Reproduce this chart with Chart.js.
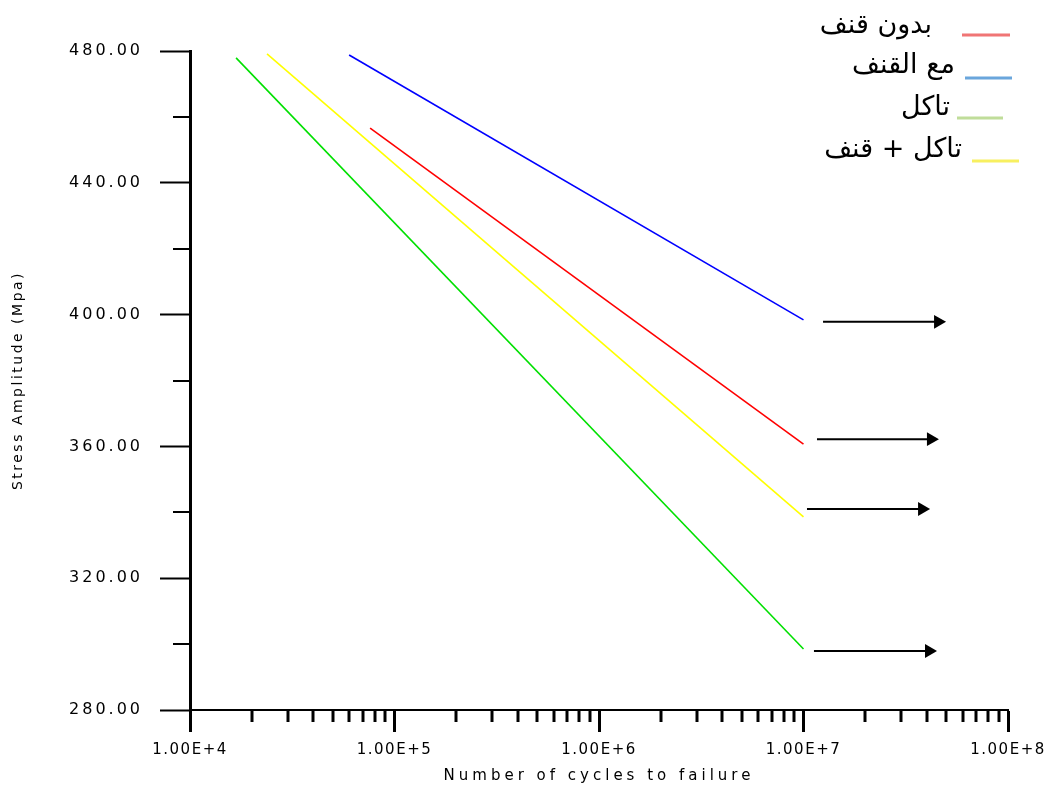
<!DOCTYPE html>
<html>
<head>
<meta charset="utf-8">
<script src="https://cdn.jsdelivr.net/npm/chart.js@4/dist/chart.umd.min.js"></script>
<style>
  html, body { margin: 0; padding: 0; background: #ffffff; }
  #wrap { width: 1059px; height: 793px; }
</style>
</head>
<body>
<div id="wrap"><canvas id="c" width="1059" height="793"></canvas></div>
<script>
// ---- Data ----
const seriesLabels = ['بدون قنف', 'مع القنف', 'تاكل', 'تاكل + قنف'];

const noPeenX = [7.6e4, 1e7];      const noPeenY = [456.6, 360.7];
const peenX = [6.0e4, 1e7];        const peenY = [478.8, 398.4];
const corrX = [1.68e4, 1e7];       const corrY = [477.9, 298.5];
const corrPeenX = [2.38e4, 1e7];   const corrPeenY = [479.1, 338.6];

// arrows (order: no peen, peen, corrosion, corrosion+peen)
const arrowStartX = [1.164e7, 1.246e7, 1.125e7, 1.04e7];
const arrowEndX   = [4.20e7, 4.55e7, 4.11e7, 3.80e7];
const arrowY      = [362.2, 397.8, 297.9, 341.0];

const xTickValues = [1e4, 1e5, 1e6, 1e7, 1e8];
const xTickLabels = ['1.00E+4', '1.00E+5', '1.00E+6', '1.00E+7', '1.00E+8'];
const xMinorMultipliers = [2, 3, 4, 5, 6, 7, 8, 9];
const yTickValues = [280, 320, 360, 400, 440, 480];
const yTickLabels = ['280.00', '320.00', '360.00', '400.00', '440.00', '480.00'];
const yMinorValues = [300, 340, 380, 420, 460];

const lineColors = ['#ff0000', '#0000ff', '#00e000', '#ffff00'];
const legendColors = ['#f07575', '#6aa6dc', '#c0dd9a', '#f8f060'];

const xTitle = 'Number of cycles to failure';
const yTitle = 'Stress Amplitude (Mpa)';

// ---- build datasets ----
function pts(xs, ys) { return xs.map((x, i) => ({ x: x, y: ys[i] })); }
const seriesXY = [[noPeenX, noPeenY], [peenX, peenY], [corrX, corrY], [corrPeenX, corrPeenY]];

const datasets = seriesXY.map((s, i) => ({
  label: seriesLabels[i],
  data: pts(s[0], s[1]),
  borderColor: lineColors[i],
  backgroundColor: lineColors[i],
  borderWidth: 1.6,
  pointRadius: 0,
  tension: 0,
  fill: false
}));
arrowStartX.forEach((sx, i) => {
  datasets.push({
    label: 'arrow' + i,
    data: [{ x: sx, y: arrowY[i] }, { x: arrowEndX[i], y: arrowY[i] }],
    borderColor: '#000',
    backgroundColor: '#000',
    borderWidth: 2,
    pointStyle: ['circle', 'triangle'],
    pointRadius: [0, 8],
    pointRotation: [0, 90],
    pointBorderWidth: 0,
    pointBackgroundColor: '#000',
    tension: 0,
    fill: false
  });
});

function wrapSpacing(scale, labelSp, titleSp) {
  if (scale._spWrapped) return;
  scale._spWrapped = true;
  const dl = scale.drawLabels.bind(scale);
  const dt = scale.drawTitle.bind(scale);
  scale.drawLabels = function (a) { const c = scale.ctx; const o = c.letterSpacing; c.letterSpacing = labelSp; dl(a); c.letterSpacing = o || '0px'; };
  scale.drawTitle = function (a) { const c = scale.ctx; const o = c.letterSpacing; c.letterSpacing = titleSp; dt(a); c.letterSpacing = o || '0px'; };
}

const minorTicks = {
  id: 'minorTicks',
  afterDraw(chart) {
    const ctx = chart.ctx, xs = chart.scales.x, ys = chart.scales.y;
    const ca = chart.chartArea;
    ctx.save();
    ctx.strokeStyle = '#000';
    ctx.lineWidth = 2;
    yMinorValues.forEach(v => {
      const py = Math.round(ys.getPixelForValue(v));
      ctx.beginPath(); ctx.moveTo(ca.left - 17, py); ctx.lineTo(ca.left, py); ctx.stroke();
    });
    ctx.lineWidth = 3;
    for (let d = 0; d < xTickValues.length - 1; d++) {
      xMinorMultipliers.forEach(m => {
        const px = Math.round(xs.getPixelForValue(xTickValues[d] * m));
        ctx.beginPath(); ctx.moveTo(px, ca.bottom); ctx.lineTo(px, ca.bottom + 12); ctx.stroke();
      });
    }
    ctx.restore();
  }
};

const legendPos = [
  { tx: 932, ty: 26, lx1: 962, lx2: 1010, ly: 35 },
  { tx: 955, ty: 66, lx1: 965, lx2: 1012, ly: 78 },
  { tx: 950, ty: 108, lx1: 957, lx2: 1003, ly: 118 },
  { tx: 962, ty: 150, lx1: 972, lx2: 1019, ly: 161 }
];
const customLegend = {
  id: 'customLegend',
  afterDraw(chart) {
    const ctx = chart.ctx;
    ctx.save();
    ctx.letterSpacing = '0px';
    ctx.font = '27px "DejaVu Sans"';
    ctx.fillStyle = '#000';
    ctx.direction = 'rtl';
    ctx.textAlign = 'right';
    ctx.textBaseline = 'middle';
    seriesLabels.forEach((t, i) => {
      const p = legendPos[i];
      ctx.fillText(t, p.tx, p.ty);
      ctx.strokeStyle = legendColors[i];
      ctx.lineWidth = 3;
      ctx.beginPath(); ctx.moveTo(p.lx1, p.ly); ctx.lineTo(p.lx2, p.ly); ctx.stroke();
    });
    ctx.restore();
  }
};

new Chart(document.getElementById('c'), {
  type: 'line',
  data: { datasets: datasets },
  plugins: [minorTicks, customLegend],
  options: {
    responsive: false,
    animation: false,
    layout: { padding: { top: 51, right: 51, left: 0, bottom: 0 } },
    plugins: { legend: { display: false }, tooltip: { enabled: false } },
    scales: {
      x: {
        type: 'logarithmic',
        min: 1e4, max: 1e8,
        afterBuildTicks: s => { s.ticks = xTickValues.map(v => ({ value: v, major: true })); },
        afterFit: s => { s.height = 83; },
        afterUpdate: s => wrapSpacing(s, '1.5px', '4px'),
        ticks: {
          autoSkip: false, maxRotation: 0, padding: 9,
          color: '#000',
          font: { family: 'DejaVu Sans', size: 15 },
          callback: (v, i) => xTickLabels[i]
        },
        grid: { drawOnChartArea: false, drawTicks: true, tickLength: 22, tickWidth: 3, tickColor: '#000' },
        border: { display: true, color: '#000', width: 2 },
        title: {
          display: true, text: xTitle, color: '#000',
          font: { family: 'DejaVu Sans', size: 15 },
          padding: { top: 0, bottom: 8 }
        }
      },
      y: {
        type: 'linear',
        min: 280, max: 480,
        afterBuildTicks: s => { s.ticks = yTickValues.map(v => ({ value: v })); },
        afterFit: s => { s.width = 190; },
        afterUpdate: s => wrapSpacing(s, '3px', '2.5px'),
        ticks: {
          autoSkip: false, padding: 17,
          color: '#000',
          font: { family: 'DejaVu Sans', size: 16 },
          callback: (v, i) => yTickLabels[i]
        },
        grid: { drawOnChartArea: false, drawTicks: true, tickLength: 30, tickWidth: 2, tickColor: '#000' },
        border: { display: true, color: '#000', width: 3 },
        title: {
          display: true, text: yTitle, color: '#000',
          font: { family: 'DejaVu Sans', size: 14 },
          padding: { top: 10, bottom: 0 }
        }
      }
    }
  }
});
</script>
</body>
</html>
